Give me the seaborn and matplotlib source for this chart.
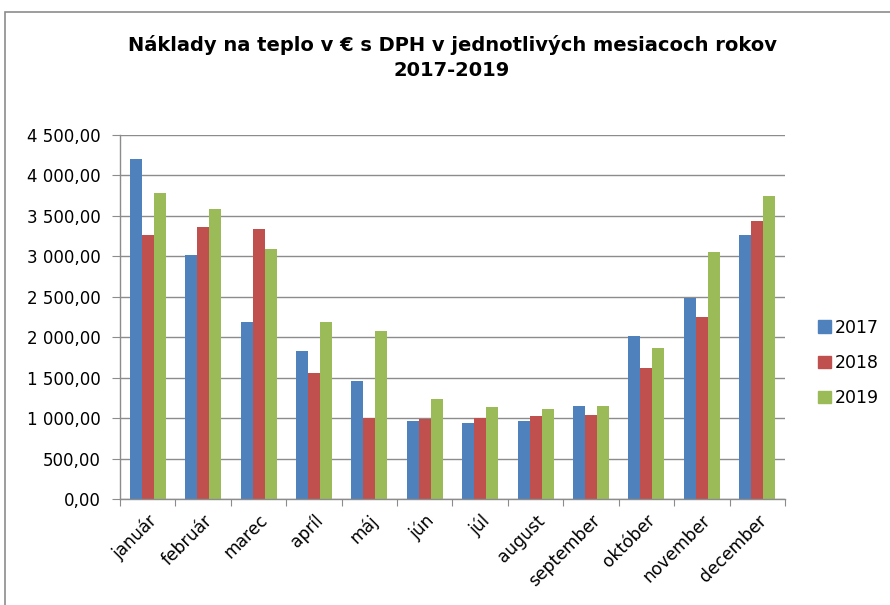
import pandas as pd
import matplotlib.pyplot as plt
import seaborn as sns
from matplotlib.patches import Rectangle
from matplotlib.ticker import FuncFormatter, FixedLocator

mesiace = ['január', 'február', 'marec', 'apríl', 'máj', 'jún',
           'júl', 'august', 'september', 'október', 'november', 'december']
roky = ['2017', '2018', '2019']
naklady_2017 = [4204, 3013, 2193, 1826, 1463, 960, 944, 960, 1154, 2016, 2481, 3265]
naklady_2018 = [3265, 3359, 3343, 1554, 1002, 985, 998, 1022, 1039, 1616, 2246, 3438]
naklady_2019 = [3784, 3590, 3091, 2193, 2077, 1232, 1134, 1117, 1154, 1863, 3050, 3743]
farby = ['#4F81BD', '#C0504D', '#9BBB59']

data = pd.DataFrame({
    'mesiac': mesiace * 3,
    'rok': [r for r in roky for _ in mesiace],
    'naklady': naklady_2017 + naklady_2018 + naklady_2019,
})

sns.set_style('white')
plt.rcParams['font.family'] = ['DejaVu Sans']
plt.rcParams['text.color'] = 'black'
plt.rcParams['xtick.labelcolor'] = 'black'
plt.rcParams['ytick.labelcolor'] = 'black'

fig = plt.figure(figsize=(8.9, 6.05), dpi=100)
ax = fig.add_axes([0.1348, 0.1752, 0.7472, 0.6017])

sns.barplot(
    data=data, x='mesiac', y='naklady', hue='rok',
    palette=farby, width=0.65, gap=0, saturation=1,
    edgecolor='none', linewidth=0, ax=ax
)

ax.set_ylim(0, 4500)
ax.set_xlim(-0.5, 11.5)
ax.set_yticks(range(0, 4501, 500))
ax.yaxis.set_major_formatter(FuncFormatter(
    lambda v, p: f'{v:,.2f}'.replace(',', ' ').replace('.', ',')))
ax.grid(axis='y', color='#8c8c8c', linewidth=1)
ax.set_axisbelow(True)

# ticks between categories, labels at centers
ax.xaxis.set_major_locator(FixedLocator([i - 0.5 for i in range(13)]))
ax.xaxis.set_minor_locator(FixedLocator(list(range(12))))
ax.set_xticklabels([], minor=False)
ax.set_xticklabels(mesiace, minor=True, rotation=45, ha='right',
                   rotation_mode='anchor', fontsize=12.3)
ax.tick_params(axis='x', which='major', length=5, color='#8c8c8c', direction='out', bottom=True)
ax.tick_params(axis='x', which='minor', length=0, pad=9, bottom=True)
ax.tick_params(axis='y', length=6, color='#8c8c8c', direction='out', left=True,
               labelsize=12, pad=8)

for s in ['top', 'right']:
    ax.spines[s].set_visible(False)
for s in ['left', 'bottom']:
    ax.spines[s].set_color('#8c8c8c')
    ax.spines[s].set_linewidth(1)

ax.set_xlabel('')
ax.set_ylabel('')

handles = [Rectangle((0, 0), 1, 1, color=c) for c in farby]
ax.legend(handles, roky, loc='center left', bbox_to_anchor=(0.902, 0.40),
          bbox_transform=fig.transFigure, frameon=False, fontsize=12.5,
          handlelength=0.7, handleheight=0.7, handletextpad=0.25,
          labelspacing=1.0)

fig.text(0.508, 0.905, 'Náklady na teplo v € s DPH v jednotlivých mesiacoch rokov\n2017-2019',
         ha='center', va='center', fontsize=14, fontweight='bold', linespacing=1.35)

fig.patches.append(Rectangle((5 / 890, -0.1), 1.2, 1 - 12 / 605 + 0.1,
                             transform=fig.transFigure, fill=False,
                             edgecolor='#8c8c8c', linewidth=1.2))

fig.savefig('out.png', dpi=100)
